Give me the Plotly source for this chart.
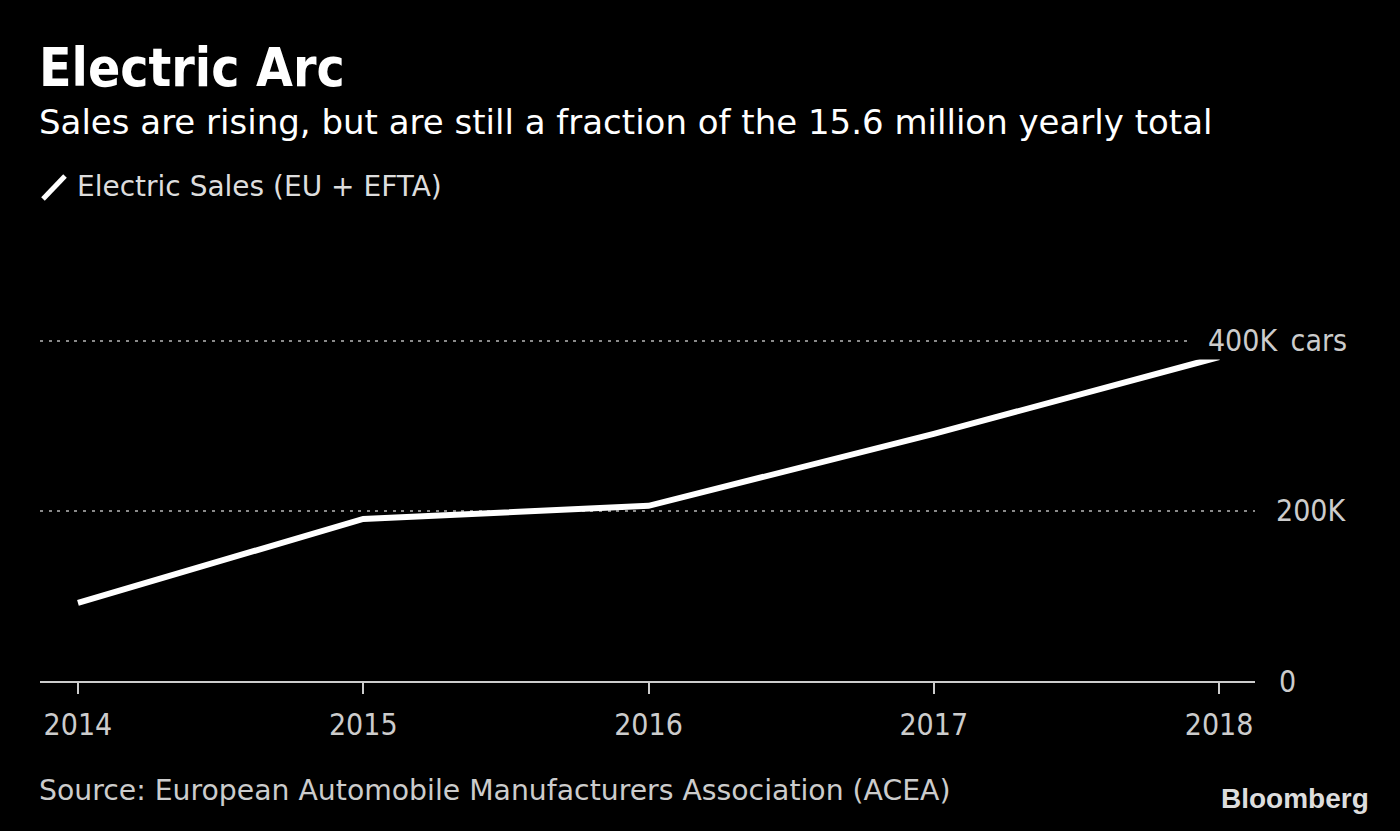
import plotly.graph_objects as go

years = [2014, 2015, 2016, 2017, 2018]
electric_sales = [92000, 190500, 206000, 290500, 381000]
y_tick_vals = [0, 200000, 400000]
y_tick_text = ["0", "200K", "\u2002\u2009400K\u2002cars"]

FONT_C = "DejaVu Sans Condensed, DejaVu Sans, sans-serif"
FONT_R = "DejaVu Sans, sans-serif"
W, H = 1400, 831
L, R, T, B = 40, 145, 300, 150
PW, PH = W - L - R, H - T - B

def xp(px):
    return (px - L) / PW

def yp(py):
    return (H - B - py) / PH

fig = go.Figure()
fig.add_trace(go.Scatter(
    x=years, y=electric_sales, mode="lines",
    line=dict(color="#ffffff", width=6),
    showlegend=False, hoverinfo="skip",
))

fig.update_layout(
    width=W, height=H,
    margin=dict(l=L, r=R, t=T, b=B, pad=0),
    paper_bgcolor="#000000", plot_bgcolor="#000000",
    font=dict(family=FONT_C, color="#cccccc", size=30),
    showlegend=False,
    xaxis=dict(
        range=[2013.867, 2018.126], tickvals=years,
        ticktext=[str(y) for y in years],
        showgrid=False, zeroline=False,
        showline=True, linecolor="#cccccc", linewidth=2,
        ticks="outside", ticklen=11, tickwidth=2, tickcolor="#cccccc",
        ticklabelstandoff=5,
        tickfont=dict(family=FONT_C, size=30, color="#cccccc"),
        fixedrange=True,
    ),
    yaxis=dict(
        range=[0, 448000], tickvals=y_tick_vals,
        showticklabels=False, showgrid=True,
        gridcolor="#8a8a8a", gridwidth=2, griddash="3px,5.6px",
        zeroline=False, fixedrange=True,
    ),
)

# y tick labels (right side)
for v, t in zip(y_tick_vals, y_tick_text):
    if v == 0:
        fig.add_annotation(x=xp(1277), y=v, xref="paper", yref="y", text=t,
                           showarrow=False, xanchor="left", yanchor="middle",
                           font=dict(family=FONT_C, size=30, color="#cccccc"))
    else:
        fig.add_annotation(x=xp(1349), y=v, xref="paper", yref="y", text=t,
                           showarrow=False, xanchor="right", yanchor="middle",
                           bgcolor="#000000", borderpad=1,
                           font=dict(family=FONT_C, size=30, color="#cccccc"))

# title, subtitle, legend, source, logo
fig.add_annotation(x=xp(37), y=yp(67), xref="paper", yref="paper",
                   text="<b>Electric Arc</b>", showarrow=False,
                   xanchor="left", yanchor="middle",
                   font=dict(family=FONT_C, size=53, color="#ffffff"))
fig.add_annotation(x=xp(37), y=yp(122), xref="paper", yref="paper",
                   text="Sales are rising, but are still a fraction of the 15.6 million yearly total",
                   showarrow=False, xanchor="left", yanchor="middle",
                   font=dict(family=FONT_R, size=34, color="#ffffff"))
fig.add_annotation(x=xp(75), y=yp(187), xref="paper", yref="paper",
                   text="Electric Sales (EU + EFTA)", showarrow=False,
                   xanchor="left", yanchor="middle",
                   font=dict(family=FONT_R, size=28, color="#dddddd"))
fig.add_shape(type="line", xref="paper", yref="paper",
              x0=xp(43), y0=yp(199), x1=xp(65), y1=yp(176),
              line=dict(color="#ffffff", width=5))
fig.add_annotation(x=xp(37), y=yp(790), xref="paper", yref="paper",
                   text="Source: European Automobile Manufacturers Association (ACEA)",
                   showarrow=False, xanchor="left", yanchor="middle",
                   font=dict(family=FONT_R, size=28.3, color="#cccccc"))
fig.add_annotation(x=xp(1371), y=yp(798), xref="paper", yref="paper",
                   text="<b>Bloomberg</b>", showarrow=False,
                   xanchor="right", yanchor="middle",
                   font=dict(family="Liberation Sans, Arial, sans-serif", size=28, color="#dddddd"))

fig.write_html("out.html", config={"displayModeBar": False},
               post_script="document.body.style.margin='0';document.body.style.background='#000';")
